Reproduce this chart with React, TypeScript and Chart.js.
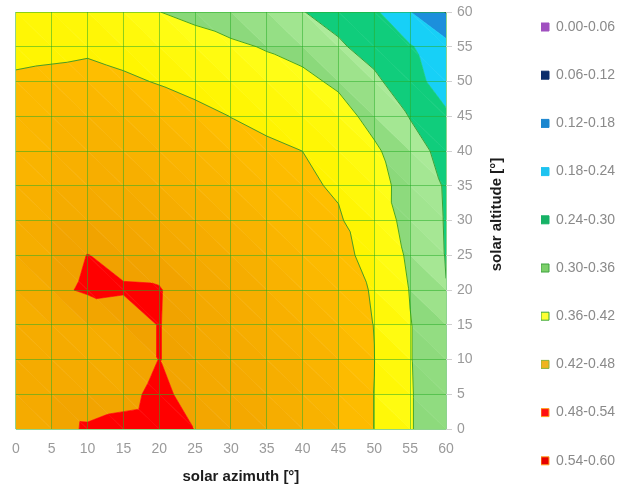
import React, { useEffect, useRef } from 'react';
import { Chart, registerables } from 'chart.js';

Chart.register(...registerables);

// ---- data ----
const azimuths = [0, 5, 10, 15, 20, 25, 30, 35, 40, 45, 50, 55, 60];
const altitudes = [0, 5, 10, 15, 20, 25, 30, 35, 40, 45, 50, 55, 60];
const tickValues = [0, 5, 10, 15, 20, 25, 30, 35, 40, 45, 50, 55, 60];

// values per altitude row (columns follow azimuths)
const alt00 = [0.455, 0.464, 0.485, 0.495, 0.5, 0.479, 0.47, 0.46, 0.45, 0.44, 0.4196, 0.363, 0.33];
const alt05 = [0.46, 0.462, 0.46, 0.465, 0.494, 0.459, 0.465, 0.458, 0.45, 0.44, 0.4196, 0.363, 0.33];
const alt10 = [0.455, 0.46, 0.46, 0.45, 0.481, 0.465, 0.462, 0.455, 0.448, 0.438, 0.4204, 0.362, 0.325];
const alt15 = [0.455, 0.458, 0.455, 0.468, 0.481, 0.465, 0.46, 0.453, 0.445, 0.435, 0.4195, 0.362, 0.32];
const alt20 = [0.45, 0.4734, 0.484, 0.482, 0.4815, 0.465, 0.46, 0.45, 0.44, 0.43, 0.418, 0.3576, 0.301];
const alt25 = [0.45, 0.468, 0.4805, 0.474, 0.47, 0.462, 0.455, 0.447, 0.437, 0.427, 0.4118, 0.3486, 0.298];
const alt30 = [0.445, 0.46, 0.465, 0.465, 0.46, 0.455, 0.448, 0.44, 0.43, 0.424, 0.396, 0.338, 0.2967];
const alt35 = [0.44, 0.45, 0.455, 0.455, 0.45, 0.445, 0.44, 0.432, 0.426, 0.4157, 0.38, 0.3383, 0.2948];
const alt40 = [0.435, 0.445, 0.45, 0.448, 0.443, 0.437, 0.432, 0.426, 0.4199, 0.405, 0.37, 0.32, 0.284];
const alt45 = [0.43, 0.44, 0.443, 0.44, 0.435, 0.429, 0.4195, 0.412, 0.4, 0.385, 0.3387, 0.2978, 0.245];
const alt50 = [0.425, 0.428, 0.43, 0.4245, 0.4183, 0.41, 0.4, 0.385, 0.375, 0.349, 0.315, 0.2525, 0.225];
const alt55 = [0.41, 0.412, 0.415, 0.41, 0.395, 0.38, 0.37, 0.356, 0.3393, 0.31, 0.2709, 0.245, 0.2005];
const alt60 = [0.4, 0.4, 0.395, 0.38, 0.3605, 0.3477, 0.3283, 0.315, 0.302, 0.2743, 0.25, 0.181, 0.115];
const valueRows = [alt00, alt05, alt10, alt15, alt20, alt25, alt30, alt35, alt40, alt45, alt50, alt55, alt60];

const bandLabels = ['0.00-0.06', '0.06-0.12', '0.12-0.18', '0.18-0.24', '0.24-0.30', '0.30-0.36', '0.36-0.42', '0.42-0.48', '0.48-0.54', '0.54-0.60'];
const bandLows = [0.0, 0.06, 0.12, 0.18, 0.24, 0.3, 0.36, 0.42, 0.48, 0.54];
const bandHighs = [0.06, 0.12, 0.18, 0.24, 0.3, 0.36, 0.42, 0.48, 0.54, 0.6];
const contourLevels = [0.3, 0.36, 0.42];

const xTitle = 'solar azimuth [°]';
const yTitle = 'solar altitude [°]';

// ---- styles ----
const bandLight = ['#a35bc7', '#0c3c88', '#1c8fdc', '#17d0f7', '#10cd7c', '#aeec9c', '#ffff1a', '#ffc000', '#ff0000', '#ee0000'];
const bandDark = ['#a35bc7', '#0c3c88', '#1c8fdc', '#17d0f7', '#10cd7c', '#86d676', '#fff400', '#f0a000', '#ff0000', '#ee0000'];
const legendFill = ['#a050c0', '#0b2d6b', '#1a86cf', '#1ec3f0', '#16b266', '#7ccf6a', '#ffff33', '#f0b41e', '#ff1010', '#e60000'];
const legendBorder = ['#a050c0', '#0b2d6b', '#1a86cf', '#1ec3f0', '#16b266', '#3fa23f', '#3aa83a', '#8ab43c', '#ffa020', '#ffa020'];

const FONT = '"Liberation Sans", Arial, Helvetica, sans-serif';

function hexRgb(h: string) {
  const n = parseInt(h.slice(1), 16);
  return [(n >> 16) & 255, (n >> 8) & 255, n & 255];
}
function mix(a: string, b: string, t: number) {
  const A = hexRgb(a), B = hexRgb(b);
  const k = Math.max(0, Math.min(1, t));
  return `rgb(${Math.round(A[0] + (B[0] - A[0]) * k)},${Math.round(A[1] + (B[1] - A[1]) * k)},${Math.round(A[2] + (B[2] - A[2]) * k)})`;
}

type P = { x: number; y: number; v: number };
function clipPoly(poly: P[], c: number, above: boolean): P[] {
  const out: P[] = [];
  for (let k = 0; k < poly.length; k++) {
    const a = poly[k];
    const b = poly[(k + 1) % poly.length];
    const ain = above ? a.v >= c : a.v <= c;
    const bin = above ? b.v >= c : b.v <= c;
    if (ain) out.push(a);
    if (ain !== bin) {
      const t = (c - a.v) / (b.v - a.v);
      out.push({ x: a.x + t * (b.x - a.x), y: a.y + t * (b.y - a.y), v: c });
    }
  }
  return out;
}

const contourPlugin = {
  id: 'contourFill',
  beforeDatasetsDraw(chart: any) {
    const data = chart.data.datasets[0].data as any[];
    const xs = chart.scales.x;
    const ys = chart.scales.y;
    const nx = azimuths.length;
    const ny = altitudes.length;
    const node = (i: number, j: number): P => {
      const p = data[j * nx + i];
      return { x: xs.getPixelForValue(p.x), y: ys.getPixelForValue(p.y), v: p.v };
    };
    const ctx = chart.ctx as CanvasRenderingContext2D;
    const a = chart.chartArea;
    ctx.save();
    ctx.beginPath();
    ctx.rect(a.left, a.top, a.right - a.left, a.bottom - a.top);
    ctx.clip();
    const tris: P[][] = [];
    for (let j = 0; j < ny - 1; j++) {
      for (let i = 0; i < nx - 1; i++) {
        const A = node(i, j), B = node(i + 1, j), C = node(i, j + 1), D = node(i + 1, j + 1);
        tris.push([A, B, C], [D, C, B]);
      }
    }
    for (const tri of tris) {
      for (let b = 0; b < bandLows.length; b++) {
        const poly = clipPoly(clipPoly(tri, bandLows[b], true), bandHighs[b], false);
        if (poly.length < 3) continue;
        let s = 0;
        for (const p of poly) s += p.v;
        const avg = s / poly.length;
        const t = (avg - bandLows[b]) / (bandHighs[b] - bandLows[b]);
        const col = mix(bandLight[b], bandDark[b], t);
        ctx.beginPath();
        ctx.moveTo(poly[0].x, poly[0].y);
        for (let k = 1; k < poly.length; k++) ctx.lineTo(poly[k].x, poly[k].y);
        ctx.closePath();
        ctx.fillStyle = col;
        ctx.fill();
        ctx.strokeStyle = col;
        ctx.lineWidth = 0.6;
        ctx.stroke();
      }
    }
    ctx.strokeStyle = 'rgba(40,150,40,0.85)';
    ctx.lineWidth = 1;
    for (const tri of tris) {
      for (const c of contourLevels) {
        const pts: P[] = [];
        for (let k = 0; k < 3; k++) {
          const p = tri[k], q = tri[(k + 1) % 3];
          if ((p.v - c) * (q.v - c) < 0) {
            const t = (c - p.v) / (q.v - p.v);
            pts.push({ x: p.x + t * (q.x - p.x), y: p.y + t * (q.y - p.y), v: c });
          }
        }
        if (pts.length === 2) {
          ctx.beginPath();
          ctx.moveTo(pts[0].x, pts[0].y);
          ctx.lineTo(pts[1].x, pts[1].y);
          ctx.stroke();
        }
      }
    }
    ctx.restore();
  },
};

const titlePlugin = {
  id: 'axisTitles',
  afterDraw(chart: any) {
    const ctx = chart.ctx as CanvasRenderingContext2D;
    const a = chart.chartArea;
    ctx.save();
    ctx.font = `bold 15px ${FONT}`;
    ctx.fillStyle = '#1c1c1c';
    ctx.textAlign = 'center';
    ctx.textBaseline = 'middle';
    ctx.fillText(xTitle, (a.left + a.right) / 2 + 10, a.bottom + 48);
    ctx.translate(a.right + 51, (a.top + a.bottom) / 2 - 6);
    ctx.rotate(-Math.PI / 2);
    ctx.fillText(yTitle, 0, 0);
    ctx.restore();
  },
};

// place the legend column (align 'end' => first item top = bottom - column height)
const legendPlace = {
  id: 'legendPlace',
  afterLayout(chart: any) {
    const lg = chart.legend;
    if (!lg) return;
    lg.top = 12;
    lg.bottom = 502;
    lg.left = 541;
    lg.right = 630;
  },
};

export default function App() {
  const ref = useRef<HTMLCanvasElement>(null);
  useEffect(() => {
    const points: any[] = [];
    for (let j = 0; j < altitudes.length; j++) {
      for (let i = 0; i < azimuths.length; i++) {
        points.push({ x: azimuths[i], y: altitudes[j], v: valueRows[j][i] });
      }
    }
    const chart = new Chart(ref.current as HTMLCanvasElement, {
      type: 'scatter',
      data: {
        datasets: [
          {
            label: 'grid',
            data: points,
            pointRadius: 0,
            pointHoverRadius: 0,
            showLine: false,
          },
        ],
      },
      options: {
        responsive: false,
        animation: false,
        events: [],
        layout: { padding: { top: 0, left: 15, right: 0, bottom: 0 } },
        scales: {
          x: {
            type: 'linear',
            position: 'bottom',
            min: 0,
            max: 60,
            afterBuildTicks: (s: any) => {
              s.ticks = tickValues.map((v) => ({ value: v }));
            },
            afterFit: (s: any) => {
              s.height = 61;
            },
            ticks: { color: '#9a9a9a', font: { family: FONT, size: 14 }, padding: 12, maxRotation: 0 },
            grid: { color: 'rgba(30,170,30,0.5)', lineWidth: 1, drawTicks: false, z: 1 },
            border: { display: false },
            title: { display: false, text: xTitle },
          },
          y: {
            type: 'linear',
            position: 'right',
            min: 0,
            max: 60,
            afterBuildTicks: (s: any) => {
              s.ticks = tickValues.map((v) => ({ value: v }));
            },
            afterFit: (s: any) => {
              s.width = 124;
            },
            ticks: { color: '#9a9a9a', font: { family: FONT, size: 14, lineHeight: 1 }, padding: 5 },
            grid: { color: 'rgba(30,170,30,0.5)', lineWidth: 1, drawTicks: true, tickLength: 6, tickColor: '#d0d0d0', z: 1 },
            border: { display: false },
            title: { display: false, text: yTitle },
          },
        },
        plugins: {
          tooltip: { enabled: false },
          legend: {
            display: true,
            position: 'right',
            align: 'end',
            maxWidth: 60,
            labels: {
              boxWidth: 8,
              boxHeight: 8,
              padding: 0,
              color: '#8a8a8a',
              font: { family: FONT, size: 14, lineHeight: 48.2 / 14 },
              generateLabels: () =>
                bandLabels.map((t, k) => ({
                  text: [t] as any,
                  fillStyle: legendFill[k],
                  strokeStyle: legendBorder[k],
                  lineWidth: 1,
                  hidden: false,
                  datasetIndex: 0,
                  index: k,
                  fontColor: '#8a8a8a',
                })),
            },
          },
        },
      } as any,
      plugins: [contourPlugin, titlePlugin, legendPlace],
    });
    return () => chart.destroy();
  }, []);
  return (
    <div style={{ position: 'absolute', left: 0, top: 0, width: 630, height: 490 }}>
      <canvas ref={ref} width={630} height={490} style={{ display: 'block' }} />
    </div>
  );
}
